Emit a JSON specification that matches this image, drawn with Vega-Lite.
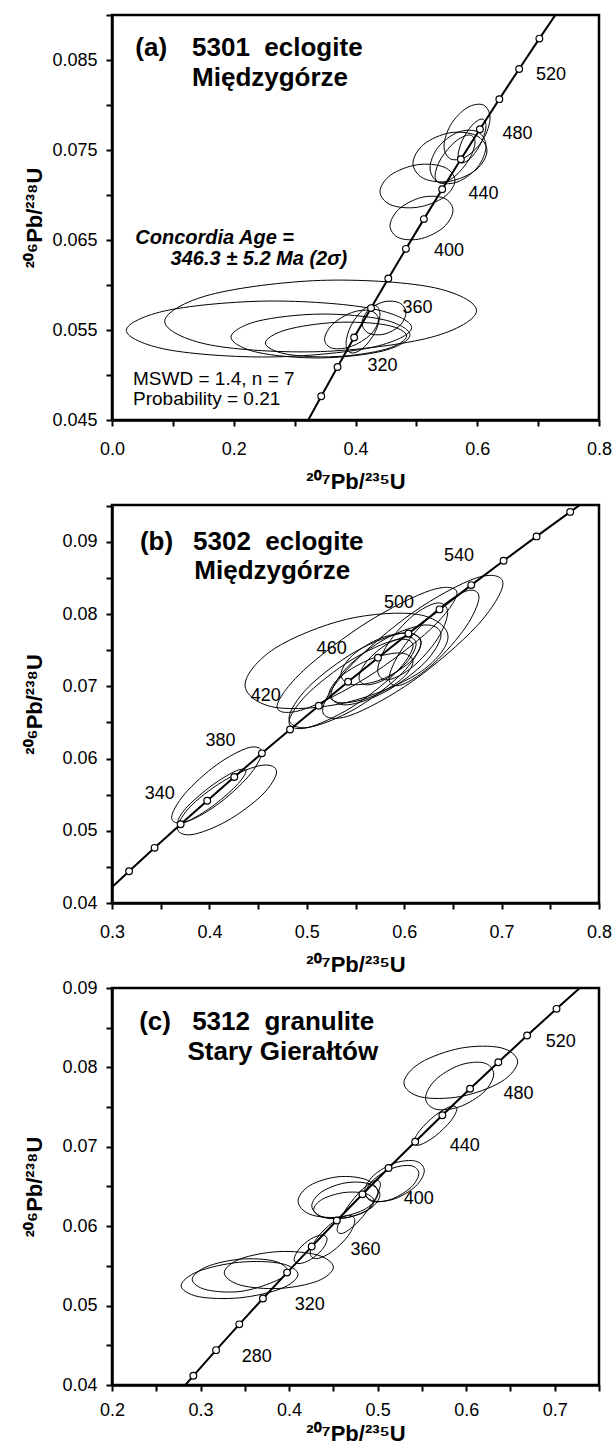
{
"$schema": "https://vega.github.io/schema/vega-lite/v6.json",
"padding": {"left": 22, "top": 4, "right": 5, "bottom": 2},
"background": "white",
"spacing": 85,
"bounds": "flush",
"config": {
  "view": {"stroke": "black", "strokeWidth": 2.5},
  "axis": {"grid": false, "domainColor": "black", "domainWidth": 2.5, "tickColor": "black", "tickWidth": 2, "tickSize": 6,
    "labelFont": "Liberation Sans", "labelFontSize": 18, "labelColor": "black", "labelFlush": false, "labelOverlap": false, "labelBound": false,
    "titleFont": "Liberation Sans", "titleFontSize": 22, "titleFontWeight": "bold", "titleColor": "black"},
  "text": {"font": "Liberation Sans", "color": "black"}
},
"datasets": {
  "conc": [
    {"t":200,"x":0.21771,"y":0.031511},{"t":220,"x":0.24193,"y":0.034716},{"t":240,"x":0.26664,"y":0.037932},
    {"t":260,"x":0.29183,"y":0.041157},{"t":280,"x":0.31753,"y":0.044392},{"t":300,"x":0.34374,"y":0.047637},
    {"t":320,"x":0.37047,"y":0.050893},{"t":340,"x":0.39773,"y":0.054158},{"t":360,"x":0.42553,"y":0.057434},
    {"t":380,"x":0.45389,"y":0.060719},{"t":400,"x":0.48281,"y":0.064015},{"t":420,"x":0.51231,"y":0.067321},
    {"t":440,"x":0.54240,"y":0.070638},{"t":460,"x":0.57308,"y":0.073965},{"t":480,"x":0.60437,"y":0.077302},
    {"t":500,"x":0.63628,"y":0.080650},{"t":520,"x":0.66883,"y":0.084008},{"t":540,"x":0.70203,"y":0.087376},
    {"t":560,"x":0.73588,"y":0.090755},{"t":580,"x":0.77041,"y":0.094144},{"t":600,"x":0.80563,"y":0.097544},
    {"t":620,"x":0.84155,"y":0.100954}
  ],
  "ea": [
    {"e":"L1","i":0,"x":0.5988,"y":0.057156},{"e":"L1","i":1,"x":0.5238,"y":0.059777},{"e":"L1","i":2,"x":0.3427,"y":0.060511},{"e":"L1","i":3,"x":0.1616,"y":0.058928},
    {"e":"L1","i":4,"x":0.0866,"y":0.055956},{"e":"L1","i":5,"x":0.1616,"y":0.053335},{"e":"L1","i":6,"x":0.3427,"y":0.052601},{"e":"L1","i":7,"x":0.5238,"y":0.054184},
    {"e":"L2","i":0,"x":0.4923,"y":0.055267},{"e":"L2","i":1,"x":0.4236,"y":0.057418},{"e":"L2","i":2,"x":0.2579,"y":0.058218},{"e":"L2","i":3,"x":0.0922,"y":0.057198},
    {"e":"L2","i":4,"x":0.0235,"y":0.054955},{"e":"L2","i":5,"x":0.0922,"y":0.052804},{"e":"L2","i":6,"x":0.2579,"y":0.052004},{"e":"L2","i":7,"x":0.4236,"y":0.053024},
    {"e":"L3","i":0,"x":0.4895,"y":0.054455},{"e":"L3","i":1,"x":0.4464,"y":0.056143},{"e":"L3","i":2,"x":0.3425,"y":0.056770},{"e":"L3","i":3,"x":0.2386,"y":0.055970},
    {"e":"L3","i":4,"x":0.1955,"y":0.054211},{"e":"L3","i":5,"x":0.2386,"y":0.052523},{"e":"L3","i":6,"x":0.3425,"y":0.051896},{"e":"L3","i":7,"x":0.4464,"y":0.052696},
    {"e":"L4","i":0,"x":0.4841,"y":0.054332},{"e":"L4","i":1,"x":0.4501,"y":0.055562},{"e":"L4","i":2,"x":0.3680,"y":0.055845},{"e":"L4","i":3,"x":0.2859,"y":0.055014},
    {"e":"L4","i":4,"x":0.2519,"y":0.053556},{"e":"L4","i":5,"x":0.2859,"y":0.052326},{"e":"L4","i":6,"x":0.3680,"y":0.052043},{"e":"L4","i":7,"x":0.4501,"y":0.052874},
    {"e":"L5","i":0,"x":0.4376,"y":0.056140},{"e":"L5","i":1,"x":0.4247,"y":0.057149},{"e":"L5","i":2,"x":0.3934,"y":0.056933},{"e":"L5","i":3,"x":0.3622,"y":0.055617},
    {"e":"L5","i":4,"x":0.3492,"y":0.053972},{"e":"L5","i":5,"x":0.3622,"y":0.052963},{"e":"L5","i":6,"x":0.3934,"y":0.053179},{"e":"L5","i":7,"x":0.4247,"y":0.054495},
    {"e":"L6","i":0,"x":0.4829,"y":0.056900},{"e":"L6","i":1,"x":0.4723,"y":0.058009},{"e":"L6","i":2,"x":0.4468,"y":0.058136},{"e":"L6","i":3,"x":0.4213,"y":0.057207},
    {"e":"L6","i":4,"x":0.4107,"y":0.055766},{"e":"L6","i":5,"x":0.4213,"y":0.054657},{"e":"L6","i":6,"x":0.4468,"y":0.054530},{"e":"L6","i":7,"x":0.4723,"y":0.055459},
    {"e":"L7","i":0,"x":0.4402,"y":0.056713},{"e":"L7","i":1,"x":0.4320,"y":0.057754},{"e":"L7","i":2,"x":0.4123,"y":0.057247},{"e":"L7","i":3,"x":0.3926,"y":0.055489},
    {"e":"L7","i":4,"x":0.3844,"y":0.053509},{"e":"L7","i":5,"x":0.3926,"y":0.052468},{"e":"L7","i":6,"x":0.4123,"y":0.052975},{"e":"L7","i":7,"x":0.4320,"y":0.054733},
    {"e":"U1","i":0,"x":0.6210,"y":0.078555},{"e":"U1","i":1,"x":0.6099,"y":0.080004},{"e":"U1","i":2,"x":0.5832,"y":0.079693},{"e":"U1","i":3,"x":0.5565,"y":0.077805},
    {"e":"U1","i":4,"x":0.5454,"y":0.075445},{"e":"U1","i":5,"x":0.5565,"y":0.073996},{"e":"U1","i":6,"x":0.5832,"y":0.074307},{"e":"U1","i":7,"x":0.6099,"y":0.076195},
    {"e":"U2","i":0,"x":0.6144,"y":0.077708},{"e":"U2","i":1,"x":0.6077,"y":0.078440},{"e":"U2","i":2,"x":0.5914,"y":0.077743},{"e":"U2","i":3,"x":0.5751,"y":0.076024},
    {"e":"U2","i":4,"x":0.5684,"y":0.074292},{"e":"U2","i":5,"x":0.5751,"y":0.073560},{"e":"U2","i":6,"x":0.5914,"y":0.074257},{"e":"U2","i":7,"x":0.6077,"y":0.075976},
    {"e":"U3","i":0,"x":0.6144,"y":0.075422},{"e":"U3","i":1,"x":0.6009,"y":0.077015},{"e":"U3","i":2,"x":0.5684,"y":0.076972},{"e":"U3","i":3,"x":0.5359,"y":0.075318},
    {"e":"U3","i":4,"x":0.5224,"y":0.073022},{"e":"U3","i":5,"x":0.5359,"y":0.071429},{"e":"U3","i":6,"x":0.5684,"y":0.071472},{"e":"U3","i":7,"x":0.6009,"y":0.073126},
    {"e":"U4","i":0,"x":0.6160,"y":0.074917},{"e":"U4","i":1,"x":0.5982,"y":0.076617},{"e":"U4","i":2,"x":0.5552,"y":0.076914},{"e":"U4","i":3,"x":0.5122,"y":0.075634},
    {"e":"U4","i":4,"x":0.4944,"y":0.073527},{"e":"U4","i":5,"x":0.5122,"y":0.071827},{"e":"U4","i":6,"x":0.5552,"y":0.071530},{"e":"U4","i":7,"x":0.5982,"y":0.072810},
    {"e":"U5","i":0,"x":0.5964,"y":0.075869},{"e":"U5","i":1,"x":0.5868,"y":0.076670},{"e":"U5","i":2,"x":0.5635,"y":0.075907},{"e":"U5","i":3,"x":0.5402,"y":0.074027},
    {"e":"U5","i":4,"x":0.5306,"y":0.072131},{"e":"U5","i":5,"x":0.5402,"y":0.071330},{"e":"U5","i":6,"x":0.5635,"y":0.072093},{"e":"U5","i":7,"x":0.5868,"y":0.073973},
    {"e":"U6","i":0,"x":0.5634,"y":0.071610},{"e":"U6","i":1,"x":0.5454,"y":0.073102},{"e":"U6","i":2,"x":0.5018,"y":0.073363},{"e":"U6","i":3,"x":0.4582,"y":0.072239},
    {"e":"U6","i":4,"x":0.4402,"y":0.070390},{"e":"U6","i":5,"x":0.4582,"y":0.068898},{"e":"U6","i":6,"x":0.5018,"y":0.068637},{"e":"U6","i":7,"x":0.5454,"y":0.069761},
    {"e":"U7","i":0,"x":0.5601,"y":0.068298},{"e":"U7","i":1,"x":0.5450,"y":0.069664},{"e":"U7","i":2,"x":0.5084,"y":0.069730},{"e":"U7","i":3,"x":0.4718,"y":0.068456},
    {"e":"U7","i":4,"x":0.4567,"y":0.066590},{"e":"U7","i":5,"x":0.4718,"y":0.065224},{"e":"U7","i":6,"x":0.5084,"y":0.065158},{"e":"U7","i":7,"x":0.5450,"y":0.066432}
  ],
  "eb": [
    {"e":"B1","i":0,"x":0.4538,"y":0.060845},{"e":"B1","i":1,"x":0.4402,"y":0.061500},{"e":"B1","i":2,"x":0.4075,"y":0.059132},{"e":"B1","i":3,"x":0.3748,"y":0.055128},
    {"e":"B1","i":4,"x":0.3612,"y":0.051835},{"e":"B1","i":5,"x":0.3748,"y":0.051180},{"e":"B1","i":6,"x":0.4075,"y":0.053548},{"e":"B1","i":7,"x":0.4402,"y":0.057552},
    {"e":"B2","i":0,"x":0.4690,"y":0.058150},{"e":"B2","i":1,"x":0.4541,"y":0.059071},{"e":"B2","i":2,"x":0.4181,"y":0.057180},{"e":"B2","i":3,"x":0.3821,"y":0.053584},
    {"e":"B2","i":4,"x":0.3672,"y":0.050390},{"e":"B2","i":5,"x":0.3821,"y":0.049469},{"e":"B2","i":6,"x":0.4181,"y":0.051360},{"e":"B2","i":7,"x":0.4541,"y":0.054956},
    {"e":"B3","i":0,"x":0.4376,"y":0.058261},{"e":"B3","i":1,"x":0.4274,"y":0.058290},{"e":"B3","i":2,"x":0.4027,"y":0.056286},{"e":"B3","i":3,"x":0.3780,"y":0.053423},
    {"e":"B3","i":4,"x":0.3678,"y":0.051379},{"e":"B3","i":5,"x":0.3780,"y":0.051350},{"e":"B3","i":6,"x":0.4027,"y":0.053354},{"e":"B3","i":7,"x":0.4274,"y":0.056217},
    {"e":"B4","i":0,"x":0.6450,"y":0.076845},{"e":"B4","i":1,"x":0.6145,"y":0.079943},{"e":"B4","i":2,"x":0.5408,"y":0.079279},{"e":"B4","i":3,"x":0.4671,"y":0.075241},
    {"e":"B4","i":4,"x":0.4366,"y":0.070195},{"e":"B4","i":5,"x":0.4671,"y":0.067097},{"e":"B4","i":6,"x":0.5408,"y":0.067761},{"e":"B4","i":7,"x":0.6145,"y":0.071799},
    {"e":"B5","i":0,"x":0.6542,"y":0.082897},{"e":"B5","i":1,"x":0.6271,"y":0.083286},{"e":"B5","i":2,"x":0.5618,"y":0.078845},{"e":"B5","i":3,"x":0.4965,"y":0.072175},
    {"e":"B5","i":4,"x":0.4694,"y":0.067183},{"e":"B5","i":5,"x":0.4965,"y":0.066794},{"e":"B5","i":6,"x":0.5618,"y":0.071235},{"e":"B5","i":7,"x":0.6271,"y":0.077905},
    {"e":"B6","i":0,"x":0.7014,"y":0.084234},{"e":"B6","i":1,"x":0.6743,"y":0.085012},{"e":"B6","i":2,"x":0.6088,"y":0.080196},{"e":"B6","i":3,"x":0.5433,"y":0.072605},
    {"e":"B6","i":4,"x":0.5162,"y":0.066686},{"e":"B6","i":5,"x":0.5433,"y":0.065908},{"e":"B6","i":6,"x":0.6088,"y":0.070724},{"e":"B6","i":7,"x":0.6743,"y":0.078315},
    {"e":"B7","i":0,"x":0.6173,"y":0.076084},{"e":"B7","i":1,"x":0.5974,"y":0.077334},{"e":"B7","i":2,"x":0.5495,"y":0.074768},{"e":"B7","i":3,"x":0.5016,"y":0.069890},
    {"e":"B7","i":4,"x":0.4817,"y":0.065556},{"e":"B7","i":5,"x":0.5016,"y":0.064306},{"e":"B7","i":6,"x":0.5495,"y":0.066872},{"e":"B7","i":7,"x":0.5974,"y":0.071750},
    {"e":"B8","i":0,"x":0.6091,"y":0.075626},{"e":"B8","i":1,"x":0.5904,"y":0.076395},{"e":"B8","i":2,"x":0.5454,"y":0.073612},{"e":"B8","i":3,"x":0.5004,"y":0.068906},
    {"e":"B8","i":4,"x":0.4817,"y":0.065034},{"e":"B8","i":5,"x":0.5004,"y":0.064265},{"e":"B8","i":6,"x":0.5454,"y":0.067048},{"e":"B8","i":7,"x":0.5904,"y":0.071754},
    {"e":"B9","i":0,"x":0.6378,"y":0.077115},{"e":"B9","i":1,"x":0.6213,"y":0.078489},{"e":"B9","i":2,"x":0.5813,"y":0.076624},{"e":"B9","i":3,"x":0.5414,"y":0.072613},
    {"e":"B9","i":4,"x":0.5248,"y":0.068805},{"e":"B9","i":5,"x":0.5414,"y":0.067431},{"e":"B9","i":6,"x":0.5813,"y":0.069296},{"e":"B9","i":7,"x":0.6213,"y":0.073307},
    {"e":"B10","i":0,"x":0.6173,"y":0.075960},{"e":"B10","i":1,"x":0.6053,"y":0.077364},{"e":"B10","i":2,"x":0.5762,"y":0.076680},{"e":"B10","i":3,"x":0.5471,"y":0.074309},
    {"e":"B10","i":4,"x":0.5351,"y":0.071640},{"e":"B10","i":5,"x":0.5471,"y":0.070236},{"e":"B10","i":6,"x":0.5762,"y":0.070920},{"e":"B10","i":7,"x":0.6053,"y":0.073291},
    {"e":"B11","i":0,"x":0.6122,"y":0.075844},{"e":"B11","i":1,"x":0.6036,"y":0.076840},{"e":"B11","i":2,"x":0.5829,"y":0.075891},{"e":"B11","i":3,"x":0.5622,"y":0.073553},
    {"e":"B11","i":4,"x":0.5536,"y":0.071196},{"e":"B11","i":5,"x":0.5622,"y":0.070200},{"e":"B11","i":6,"x":0.5829,"y":0.071149},{"e":"B11","i":7,"x":0.6036,"y":0.073487},
    {"e":"B12","i":0,"x":0.6090,"y":0.073409},{"e":"B12","i":1,"x":0.5964,"y":0.074610},{"e":"B12","i":2,"x":0.5659,"y":0.073789},{"e":"B12","i":3,"x":0.5354,"y":0.071429},
    {"e":"B12","i":4,"x":0.5228,"y":0.068911},{"e":"B12","i":5,"x":0.5354,"y":0.067710},{"e":"B12","i":6,"x":0.5659,"y":0.068531},{"e":"B12","i":7,"x":0.5964,"y":0.070891},
    {"e":"B13","i":0,"x":0.6768,"y":0.082353},{"e":"B13","i":1,"x":0.6633,"y":0.083174},{"e":"B13","i":2,"x":0.6306,"y":0.080203},{"e":"B13","i":3,"x":0.5979,"y":0.075180},
    {"e":"B13","i":4,"x":0.5844,"y":0.071047},{"e":"B13","i":5,"x":0.5979,"y":0.070226},{"e":"B13","i":6,"x":0.6306,"y":0.073197},{"e":"B13","i":7,"x":0.6633,"y":0.078220},
    {"e":"B14","i":0,"x":0.6446,"y":0.080218},{"e":"B14","i":1,"x":0.6341,"y":0.081540},{"e":"B14","i":2,"x":0.6087,"y":0.079745},{"e":"B14","i":3,"x":0.5833,"y":0.075886},
    {"e":"B14","i":4,"x":0.5728,"y":0.072222},{"e":"B14","i":5,"x":0.5833,"y":0.070900},{"e":"B14","i":6,"x":0.6087,"y":0.072695},{"e":"B14","i":7,"x":0.6341,"y":0.076554}
  ],
  "ec": [
    {"e":"C1","i":0,"x":0.6581,"y":0.080708},{"e":"C1","i":1,"x":0.6393,"y":0.082471},{"e":"C1","i":2,"x":0.5939,"y":0.082423},{"e":"C1","i":3,"x":0.5485,"y":0.080592},
    {"e":"C1","i":4,"x":0.5297,"y":0.078052},{"e":"C1","i":5,"x":0.5485,"y":0.076289},{"e":"C1","i":6,"x":0.5939,"y":0.076337},{"e":"C1","i":7,"x":0.6393,"y":0.078168},
    {"e":"C2","i":0,"x":0.6311,"y":0.079170},{"e":"C2","i":1,"x":0.6198,"y":0.080577},{"e":"C2","i":2,"x":0.5926,"y":0.080275},{"e":"C2","i":3,"x":0.5654,"y":0.078442},
    {"e":"C2","i":4,"x":0.5541,"y":0.076150},{"e":"C2","i":5,"x":0.5654,"y":0.074743},{"e":"C2","i":6,"x":0.5926,"y":0.075045},{"e":"C2","i":7,"x":0.6198,"y":0.076878},
    {"e":"C3","i":0,"x":0.5895,"y":0.074768},{"e":"C3","i":1,"x":0.5824,"y":0.075074},{"e":"C3","i":2,"x":0.5651,"y":0.073966},{"e":"C3","i":3,"x":0.5479,"y":0.072093},
    {"e":"C3","i":4,"x":0.5407,"y":0.070552},{"e":"C3","i":5,"x":0.5479,"y":0.070246},{"e":"C3","i":6,"x":0.5651,"y":0.071354},{"e":"C3","i":7,"x":0.5824,"y":0.073227},
    {"e":"C4","i":0,"x":0.5527,"y":0.066990},{"e":"C4","i":1,"x":0.5428,"y":0.068201},{"e":"C4","i":2,"x":0.5190,"y":0.067942},{"e":"C4","i":3,"x":0.4952,"y":0.066363},
    {"e":"C4","i":4,"x":0.4853,"y":0.064390},{"e":"C4","i":5,"x":0.4952,"y":0.063179},{"e":"C4","i":6,"x":0.5190,"y":0.063438},{"e":"C4","i":7,"x":0.5428,"y":0.065017},
    {"e":"C5","i":0,"x":0.5465,"y":0.066631},{"e":"C5","i":1,"x":0.5377,"y":0.067623},{"e":"C5","i":2,"x":0.5164,"y":0.067289},{"e":"C5","i":3,"x":0.4951,"y":0.065826},
    {"e":"C5","i":4,"x":0.4863,"y":0.064089},{"e":"C5","i":5,"x":0.4951,"y":0.063097},{"e":"C5","i":6,"x":0.5164,"y":0.063431},{"e":"C5","i":7,"x":0.5377,"y":0.064894},
    {"e":"C6","i":0,"x":0.5005,"y":0.064200},{"e":"C6","i":1,"x":0.4873,"y":0.065849},{"e":"C6","i":2,"x":0.4553,"y":0.066227},{"e":"C6","i":3,"x":0.4233,"y":0.065114},
    {"e":"C6","i":4,"x":0.4101,"y":0.063160},{"e":"C6","i":5,"x":0.4233,"y":0.061511},{"e":"C6","i":6,"x":0.4553,"y":0.061133},{"e":"C6","i":7,"x":0.4873,"y":0.062246},
    {"e":"C7","i":0,"x":0.5026,"y":0.063953},{"e":"C7","i":1,"x":0.4913,"y":0.065308},{"e":"C7","i":2,"x":0.4641,"y":0.065464},{"e":"C7","i":3,"x":0.4369,"y":0.064328},
    {"e":"C7","i":4,"x":0.4256,"y":0.062567},{"e":"C7","i":5,"x":0.4369,"y":0.061212},{"e":"C7","i":6,"x":0.4641,"y":0.061056},{"e":"C7","i":7,"x":0.4913,"y":0.062192},
    {"e":"C8","i":0,"x":0.4960,"y":0.063134},{"e":"C8","i":1,"x":0.4860,"y":0.064120},{"e":"C8","i":2,"x":0.4619,"y":0.064233},{"e":"C8","i":3,"x":0.4378,"y":0.063407},
    {"e":"C8","i":4,"x":0.4278,"y":0.062126},{"e":"C8","i":5,"x":0.4378,"y":0.061140},{"e":"C8","i":6,"x":0.4619,"y":0.061027},{"e":"C8","i":7,"x":0.4860,"y":0.061853},
    {"e":"C9","i":0,"x":0.5031,"y":0.065276},{"e":"C9","i":1,"x":0.4960,"y":0.065691},{"e":"C9","i":2,"x":0.4787,"y":0.064190},{"e":"C9","i":3,"x":0.4615,"y":0.061652},
    {"e":"C9","i":4,"x":0.4543,"y":0.059564},{"e":"C9","i":5,"x":0.4615,"y":0.059149},{"e":"C9","i":6,"x":0.4787,"y":0.060650},{"e":"C9","i":7,"x":0.4960,"y":0.063188},
    {"e":"C10","i":0,"x":0.4742,"y":0.060688},{"e":"C10","i":1,"x":0.4668,"y":0.061365},{"e":"C10","i":2,"x":0.4490,"y":0.060446},{"e":"C10","i":3,"x":0.4312,"y":0.058469},
    {"e":"C10","i":4,"x":0.4238,"y":0.056592},{"e":"C10","i":5,"x":0.4312,"y":0.055915},{"e":"C10","i":6,"x":0.4490,"y":0.056834},{"e":"C10","i":7,"x":0.4668,"y":0.058811},
    {"e":"C11","i":0,"x":0.4429,"y":0.058350},{"e":"C11","i":1,"x":0.4375,"y":0.058890},{"e":"C11","i":2,"x":0.4243,"y":0.058375},{"e":"C11","i":3,"x":0.4112,"y":0.057108},
    {"e":"C11","i":4,"x":0.4057,"y":0.055830},{"e":"C11","i":5,"x":0.4112,"y":0.055290},{"e":"C11","i":6,"x":0.4243,"y":0.055805},{"e":"C11","i":7,"x":0.4375,"y":0.057072},
    {"e":"C12","i":0,"x":0.4500,"y":0.054833},{"e":"C12","i":1,"x":0.4320,"y":0.056372},{"e":"C12","i":2,"x":0.3884,"y":0.056803},{"e":"C12","i":3,"x":0.3448,"y":0.055874},
    {"e":"C12","i":4,"x":0.3268,"y":0.054127},{"e":"C12","i":5,"x":0.3448,"y":0.052588},{"e":"C12","i":6,"x":0.3884,"y":0.052157},{"e":"C12","i":7,"x":0.4320,"y":0.053086},
    {"e":"C13","i":0,"x":0.4101,"y":0.053925},{"e":"C13","i":1,"x":0.3908,"y":0.055304},{"e":"C13","i":2,"x":0.3441,"y":0.055462},{"e":"C13","i":3,"x":0.2974,"y":0.054307},
    {"e":"C13","i":4,"x":0.2781,"y":0.052515},{"e":"C13","i":5,"x":0.2974,"y":0.051136},{"e":"C13","i":6,"x":0.3441,"y":0.050978},{"e":"C13","i":7,"x":0.3908,"y":0.052133},
    {"e":"C14","i":0,"x":0.3986,"y":0.054335},{"e":"C14","i":1,"x":0.3828,"y":0.055619},{"e":"C14","i":2,"x":0.3446,"y":0.055843},{"e":"C14","i":3,"x":0.3064,"y":0.054877},
    {"e":"C14","i":4,"x":0.2906,"y":0.053285},{"e":"C14","i":5,"x":0.3064,"y":0.052001},{"e":"C14","i":6,"x":0.3446,"y":0.051777},{"e":"C14","i":7,"x":0.3828,"y":0.053003}
  ],
  "ta": [
    {"k":"age","x":0.7211,"y":0.08337,"s":"520"},{"k":"age","x":0.6663,"y":0.07681,"s":"480"},{"k":"age","x":0.6103,"y":0.07014,"s":"440"},
    {"k":"age","x":0.5536,"y":0.06374,"s":"400"},{"k":"age","x":0.502,"y":0.05744,"s":"360"},{"k":"age","x":0.4442,"y":0.05097,"s":"320"},
    {"k":"title","x":0.0383,"y":0.08633,"s":"(a)"},{"k":"title","x":0.1315,"y":0.08633,"s":"5301\u00a0\u00a0eclogite"},{"k":"title","x":0.1315,"y":0.0830,"s":"Międzygórze"},
    {"k":"conc","x":0.0383,"y":0.06522,"s":"Concordia Age ="},{"k":"conc","x":0.0963,"y":0.06289,"s":"346.3 ± 5.2 Ma (2σ)"},
    {"k":"stat","x":0.0345,"y":0.04959,"s":"MSWD = 1.4, n = 7"},{"k":"stat","x":0.0345,"y":0.0473,"s":"Probability = 0.21"}
  ],
  "tb": [
    {"k":"age","x":0.6563,"y":0.08806,"s":"540"},{"k":"age","x":0.5947,"y":0.08159,"s":"500"},{"k":"age","x":0.5255,"y":0.07514,"s":"460"},
    {"k":"age","x":0.4578,"y":0.06867,"s":"420"},{"k":"age","x":0.4115,"y":0.06248,"s":"380"},{"k":"age","x":0.3491,"y":0.0551,"s":"340"},
    {"k":"title","x":0.3287,"y":0.09004,"s":"(b)"},{"k":"title","x":0.3832,"y":0.09004,"s":"5302\u00a0\u00a0eclogite"},{"k":"title","x":0.3845,"y":0.08602,"s":"Międzygórze"}
  ],
  "tc": [
    {"k":"age","x":0.7068,"y":0.0832,"s":"520"},{"k":"age","x":0.659,"y":0.07669,"s":"480"},{"k":"age","x":0.5984,"y":0.0701,"s":"440"},
    {"k":"age","x":0.5465,"y":0.06347,"s":"400"},{"k":"age","x":0.4863,"y":0.05696,"s":"360"},{"k":"age","x":0.4234,"y":0.05003,"s":"320"},
    {"k":"age","x":0.3636,"y":0.04353,"s":"280"},
    {"k":"title","x":0.2307,"y":0.08572,"s":"(c)"},{"k":"title","x":0.2905,"y":0.08572,"s":"5312\u00a0\u00a0granulite"},{"k":"title","x":0.2852,"y":0.08194,"s":"Stary Gierałtów"}
  ]
},
"vconcat": [
  {
    "width": 487, "height": 405,
    "encoding": {
      "x": {"field": "x", "type": "quantitative", "scale": {"domain": [0, 0.8], "nice": false, "zero": false},
        "axis": {"values": [0,0.1,0.2,0.3,0.4,0.5,0.6,0.7,0.8], "labelExpr": "round(datum.value*10) % 2 == 0 ? format(datum.value, '.1f') : ''", "labelPadding": 14, "titlePadding": 13, "title": "²⁰⁷Pb/²³⁵U"}},
      "y": {"field": "y", "type": "quantitative", "scale": {"domain": [0.045, 0.09], "nice": false, "zero": false},
        "axis": {"values": [0.045,0.05,0.055,0.06,0.065,0.07,0.075,0.08,0.085,0.09], "labelExpr": "round(datum.value*1000) % 10 == 5 ? format(datum.value, '.3f') : ''", "labelPadding": 9, "titlePadding": 5, "title": "²⁰⁶Pb/²³⁸U"}}
    },
    "layer": [
      {"data": {"name": "ea"}, "mark": {"type": "line", "interpolate": "cardinal-closed", "stroke": "black", "strokeWidth": 1, "clip": true},
        "encoding": {"detail": {"field": "e"}, "order": {"field": "i", "type": "quantitative"}}},
      {"data": {"name": "conc"}, "mark": {"type": "line", "stroke": "black", "strokeWidth": 2, "clip": true},
        "encoding": {"order": {"field": "t", "type": "quantitative"}}},
      {"data": {"name": "conc"}, "transform": [{"filter": "datum.t >= 300 && datum.t <= 540"}],
        "mark": {"type": "point", "shape": "circle", "filled": true, "fill": "white", "stroke": "black", "strokeWidth": 1.2, "size": 45, "opacity": 1}, "encoding": {}},
      {"data": {"name": "ta"}, "transform": [{"filter": "datum.k == 'age'"}],
        "mark": {"type": "text", "fontSize": 18, "align": "center", "baseline": "middle"}, "encoding": {"text": {"field": "s"}}},
      {"data": {"name": "ta"}, "transform": [{"filter": "datum.k == 'title'"}],
        "mark": {"type": "text", "fontSize": 26, "fontWeight": "bold", "align": "left", "baseline": "middle"}, "encoding": {"text": {"field": "s"}}},
      {"data": {"name": "ta"}, "transform": [{"filter": "datum.k == 'conc'"}],
        "mark": {"type": "text", "fontSize": 20, "fontWeight": "bold", "fontStyle": "italic", "align": "left", "baseline": "middle"}, "encoding": {"text": {"field": "s"}}},
      {"data": {"name": "ta"}, "transform": [{"filter": "datum.k == 'stat'"}],
        "mark": {"type": "text", "fontSize": 19, "align": "left", "baseline": "middle"}, "encoding": {"text": {"field": "s"}}}
    ]
  },
  {
    "width": 487, "height": 398,
    "encoding": {
      "x": {"field": "x", "type": "quantitative", "scale": {"domain": [0.3, 0.8], "nice": false, "zero": false},
        "axis": {"values": [0.3,0.35,0.4,0.45,0.5,0.55,0.6,0.65,0.7,0.75,0.8], "labelExpr": "round(datum.value*100) % 10 == 0 ? format(datum.value, '.1f') : ''", "labelPadding": 14, "titlePadding": 13, "title": "²⁰⁷Pb/²³⁵U"}},
      "y": {"field": "y", "type": "quantitative", "scale": {"domain": [0.04, 0.0951], "nice": false, "zero": false},
        "axis": {"values": [0.04,0.045,0.05,0.055,0.06,0.065,0.07,0.075,0.08,0.085,0.09,0.095], "labelExpr": "round(datum.value*1000) % 10 == 0 ? format(datum.value, '.2f') : ''", "labelPadding": 9, "titlePadding": 15, "title": "²⁰⁶Pb/²³⁸U"}}
    },
    "layer": [
      {"data": {"name": "eb"}, "mark": {"type": "line", "interpolate": "cardinal-closed", "stroke": "black", "strokeWidth": 1, "clip": true},
        "encoding": {"detail": {"field": "e"}, "order": {"field": "i", "type": "quantitative"}}},
      {"data": {"name": "conc"}, "mark": {"type": "line", "stroke": "black", "strokeWidth": 2, "clip": true},
        "encoding": {"order": {"field": "t", "type": "quantitative"}}},
      {"data": {"name": "conc"}, "transform": [{"filter": "datum.t >= 280 && datum.t <= 580"}],
        "mark": {"type": "point", "shape": "circle", "filled": true, "fill": "white", "stroke": "black", "strokeWidth": 1.2, "size": 45, "opacity": 1}, "encoding": {}},
      {"data": {"name": "tb"}, "transform": [{"filter": "datum.k == 'age'"}],
        "mark": {"type": "text", "fontSize": 18, "align": "center", "baseline": "middle"}, "encoding": {"text": {"field": "s"}}},
      {"data": {"name": "tb"}, "transform": [{"filter": "datum.k == 'title'"}],
        "mark": {"type": "text", "fontSize": 26, "fontWeight": "bold", "align": "left", "baseline": "middle"}, "encoding": {"text": {"field": "s"}}}
    ]
  },
  {
    "width": 487, "height": 397,
    "encoding": {
      "x": {"field": "x", "type": "quantitative", "scale": {"domain": [0.2, 0.75], "nice": false, "zero": false},
        "axis": {"values": [0.2,0.25,0.3,0.35,0.4,0.45,0.5,0.55,0.6,0.65,0.7,0.75], "labelExpr": "round(datum.value*100) % 10 == 0 ? format(datum.value, '.1f') : ''", "labelPadding": 10, "titlePadding": 4, "title": "²⁰⁷Pb/²³⁵U"}},
      "y": {"field": "y", "type": "quantitative", "scale": {"domain": [0.04, 0.09], "nice": false, "zero": false},
        "axis": {"values": [0.04,0.045,0.05,0.055,0.06,0.065,0.07,0.075,0.08,0.085,0.09], "labelExpr": "round(datum.value*1000) % 10 == 0 ? format(datum.value, '.2f') : ''", "labelPadding": 9, "titlePadding": 15, "title": "²⁰⁶Pb/²³⁸U"}}
    },
    "layer": [
      {"data": {"name": "ec"}, "mark": {"type": "line", "interpolate": "cardinal-closed", "stroke": "black", "strokeWidth": 1, "clip": true},
        "encoding": {"detail": {"field": "e"}, "order": {"field": "i", "type": "quantitative"}}},
      {"data": {"name": "conc"}, "mark": {"type": "line", "stroke": "black", "strokeWidth": 2, "clip": true},
        "encoding": {"order": {"field": "t", "type": "quantitative"}}},
      {"data": {"name": "conc"}, "transform": [{"filter": "datum.t >= 260 && datum.t <= 540"}],
        "mark": {"type": "point", "shape": "circle", "filled": true, "fill": "white", "stroke": "black", "strokeWidth": 1.2, "size": 45, "opacity": 1}, "encoding": {}},
      {"data": {"name": "tc"}, "transform": [{"filter": "datum.k == 'age'"}],
        "mark": {"type": "text", "fontSize": 18, "align": "center", "baseline": "middle"}, "encoding": {"text": {"field": "s"}}},
      {"data": {"name": "tc"}, "transform": [{"filter": "datum.k == 'title'"}],
        "mark": {"type": "text", "fontSize": 26, "fontWeight": "bold", "align": "left", "baseline": "middle"}, "encoding": {"text": {"field": "s"}}}
    ]
  }
]
}
